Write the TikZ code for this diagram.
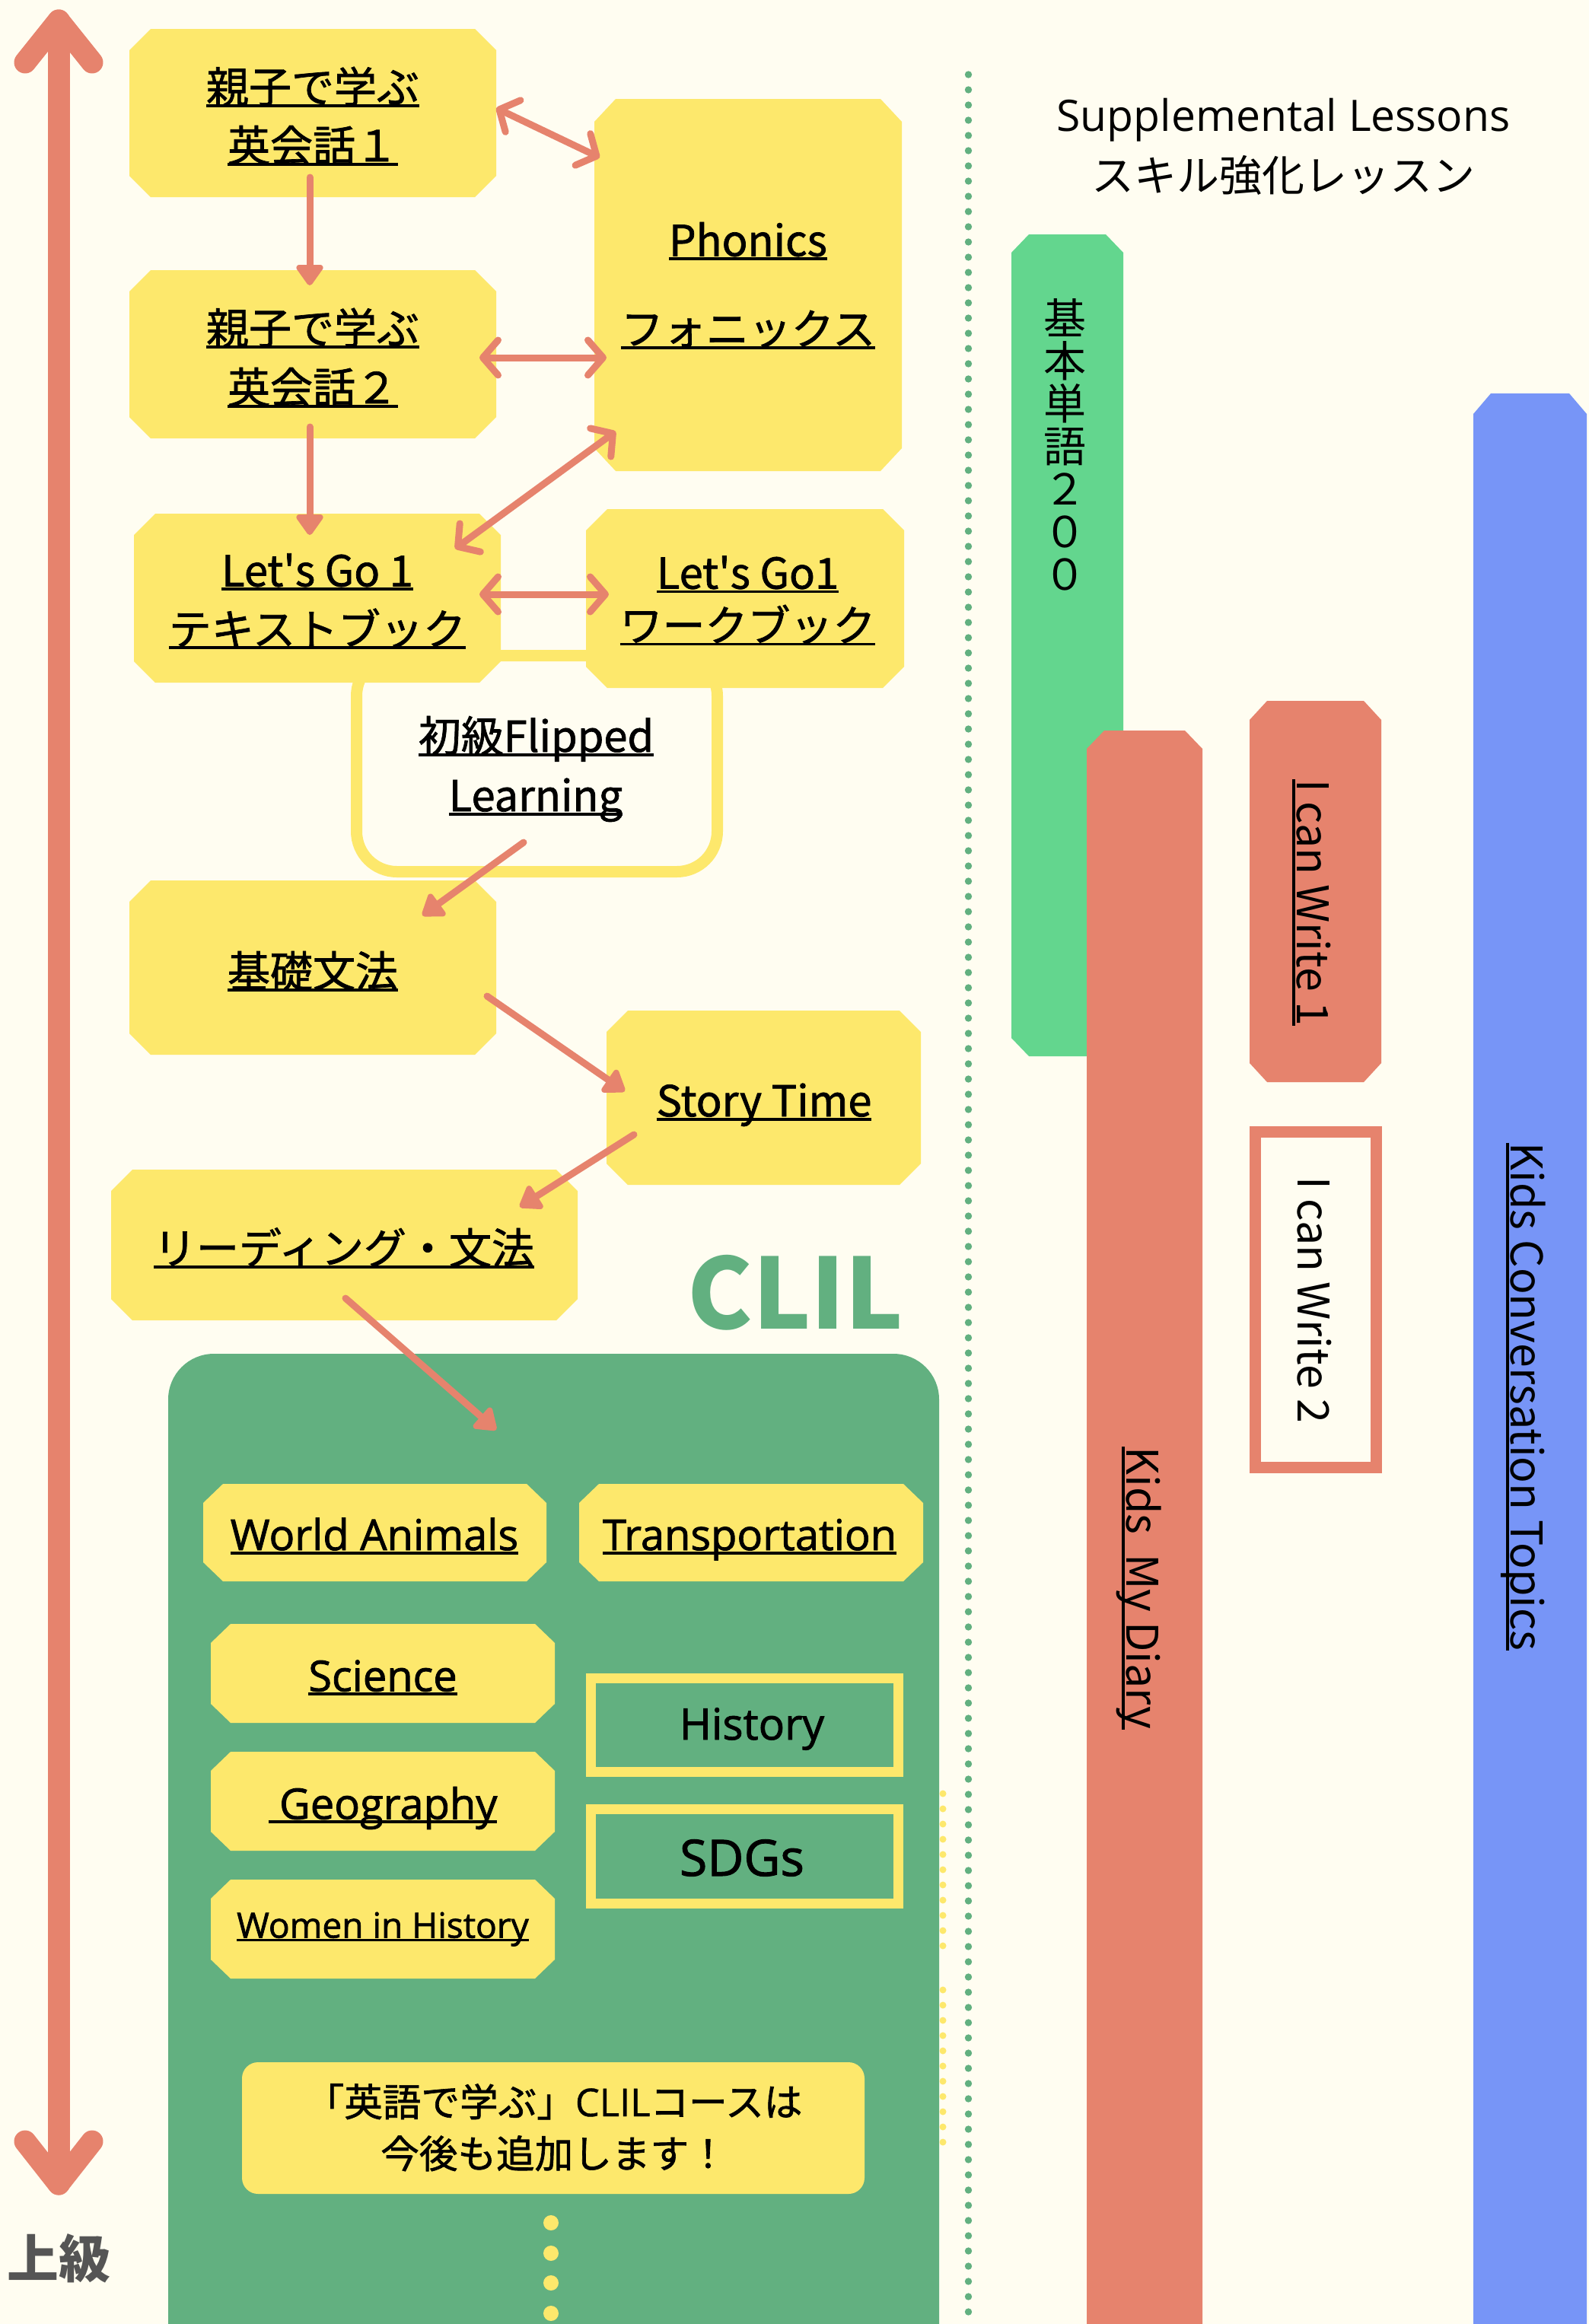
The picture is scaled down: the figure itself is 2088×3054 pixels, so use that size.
\documentclass[tikz,border=0pt]{standalone}
\usepackage{fontspec}
\setmainfont{Noto Sans CJK JP}
\newfontfamily\jpb{Noto Sans CJK JP}[FakeBold=1.3]
\newfontfamily\os{Open Sans}
\newfontfamily\osb{Open Sans}[FakeBold=1.5]
\newfontfamily\osm{Open Sans}[FakeBold=0.8]
\usetikzlibrary{arrows.meta}
\definecolor{bg}{HTML}{FFFDF1}
\definecolor{yel}{HTML}{FDE86C}
\definecolor{sal}{HTML}{E6836D}
\definecolor{clg}{HTML}{62B080}
\definecolor{bgr}{HTML}{63D68E}
\definecolor{blu}{HTML}{7795F7}
\definecolor{gry}{HTML}{555555}
\newsavebox\ulbox
\newcommand\ul[1]{\sbox\ulbox{#1}\rlap{\rule[-0.1em]{\wd\ulbox}{0.065em}}\usebox\ulbox}
\newcommand\octo[7]{\fill[#7] ({#1+#5},#2) -- ({#3-#5},#2) -- (#3,{#2+#6}) -- (#3,{#4-#6}) -- ({#3-#5},#4) -- ({#1+#5},#4) -- (#1,{#4-#6}) -- (#1,{#2+#6}) -- cycle;}
\tikzset{
  lbl/.style={anchor=base, inner sep=0pt, font=\fontsize{15.93}{18}\selectfont\jpb},
  rlbl/.style={anchor=base, inner sep=0pt, rotate=-90, font=\fontsize{16.3}{18}\selectfont},
  oslbl/.style={anchor=base, inner sep=0pt, font=\fontsize{15.93}{18}\selectfont\osb},
  sarrow/.style={draw=sal, line width=0.9mm, line cap=round, -{Triangle[length=3mm,width=4mm,round]}},
  darrow/.style={draw=sal, line width=0.9mm, line cap=round, {Straight Barb[length=2mm,width=4.6mm,round]}-{Straight Barb[length=2mm,width=4.6mm,round]}},
  bigax/.style={draw=sal, line width=2.9mm, line cap=round, line join=round},
}
\begin{document}
\begin{tikzpicture}[x=0.1mm, y=-0.1mm]
\useasboundingbox (0,0) rectangle (2088,3054);
\fill[bg] (0,0) rectangle (2088,3054);

% big level arrow
\coordinate (axtop) at (77,27);
\coordinate (axbot) at (77,2870);
\draw[bigax] (axtop) -- (axbot);
\draw[bigax] (33,82) -- (axtop) -- (121,82);
\draw[bigax] (33,2814) -- (axbot) -- (121,2814);
\node[anchor=base, inner sep=0pt, text=gry, font=\fontsize{19.3}{20}\selectfont\bfseries] (jokyu) at (77.5,2993) {上級};

% flipped learning box (behind)
\draw[yel, line width=1.5mm, fill=bg, rounded corners=5.3mm] (468.5,861.5) rectangle (942.5,1145.5);

% yellow boxes
\octo{170}{38}{652}{259}{28}{28}{yel}
\octo{170}{355}{652}{576}{28}{28}{yel}
\octo{781}{130}{1185}{619}{28}{30}{yel}
\octo{176}{675}{658}{897}{28}{28}{yel}
\octo{770}{669}{1188}{904}{28}{28}{yel}
\octo{170}{1157}{652}{1386}{28}{28}{yel}
\octo{797}{1328}{1210}{1557}{28}{28}{yel}
\octo{146}{1537}{759}{1735}{28}{28}{yel}

% CLIL panel
\fill[clg, rounded corners=6mm] (221,1779) rectangle (1234,3200);
\octo{267}{1950}{718}{2078}{26}{25}{yel}
\octo{761}{1950}{1213}{2078}{26}{25}{yel}
\octo{277}{2134}{729}{2264}{26}{25}{yel}
\octo{277}{2302}{729}{2432}{26}{25}{yel}
\octo{277}{2470}{729}{2600}{26}{25}{yel}
\draw[yel, line width=1.3mm] (776.5,2205.5) rectangle (1180.5,2328.5);
\draw[yel, line width=1.3mm] (776.5,2377.5) rectangle (1180.5,2501.5);
\fill[yel, rounded corners=2.1mm] (318,2710) rectangle (1136,2883);
\foreach \yy in {2921,2961,3000,3040} \fill[yel] (724,\yy) circle[radius=1mm];
\foreach \i in {0,...,10} {
  \fill[yel] (1239,{2357+20*\i}) circle[radius=0.45mm];
  \fill[yel] (1239,{2615+20*\i}) circle[radius=0.45mm];
}

% dotted separator
\foreach \i in {0,...,147} \fill[clg] (1272.5,{98+20*\i}) circle[radius=0.47mm];

% supplemental bars
\octo{1329}{308}{1476}{1388}{23}{24}{bgr}
\octo{1428}{960}{1580}{3300}{23}{24}{sal}
\octo{1642}{921}{1815}{1422}{23}{25}{sal}
\draw[sal, line width=1.5mm, fill=bg] (1649.5,1487.5) rectangle (1808,1928.5);
\octo{1936}{517}{2085}{3300}{23}{27}{blu}

% connectors
\coordinate (e1a) at (652,142); \coordinate (e1b) at (788,207);
\coordinate (e2a) at (407,233); \coordinate (e2b) at (407,375);
\coordinate (e3a) at (630,470); \coordinate (e3b) at (797,470);
\coordinate (e4a) at (407,561); \coordinate (e4b) at (407,703);
\coordinate (e5a) at (809,567); \coordinate (e5b) at (598,721);
\coordinate (e6a) at (630,781); \coordinate (e6b) at (800,781);
\coordinate (e7a) at (688,1107); \coordinate (e7b) at (555,1203);
\coordinate (e8a) at (640,1309); \coordinate (e8b) at (821,1434);
\coordinate (e9a) at (833,1491); \coordinate (e9b) at (683,1586);
\coordinate (e10a) at (454,1706); \coordinate (e10b) at (652,1879);
\draw[darrow] (e1a) -- (e1b);
\draw[sarrow] (e2a) -- (e2b);
\draw[darrow] (e3a) -- (e3b);
\draw[sarrow] (e4a) -- (e4b);
\draw[darrow] (e5a) -- (e5b);
\draw[darrow] (e6a) -- (e6b);
\draw[sarrow] (e7a) -- (e7b);
\draw[sarrow] (e8a) -- (e8b);
\draw[sarrow] (e9a) -- (e9b);
\draw[sarrow] (e10a) -- (e10b);

% left column texts
\node[lbl] (b1a) at (411,135) {\ul{親子で学ぶ}};
\node[lbl] (b1b) at (411,212) {\ul{英会話１}};
\node[lbl] (b2a) at (411,452) {\ul{親子で学ぶ}};
\node[lbl] (b2b) at (411,530) {\ul{英会話２}};
\node[lbl] (ph1) at (983,336.5) {\ul{Phonics}};
\node[lbl] (ph2) at (983,453) {\ul{フォニックス}};
\node[lbl] (lg1) at (417,770.5) {\ul{Let\textquotesingle s Go 1}};
\node[lbl] (lg2) at (417,847.5) {\ul{テキストブック}};
\node[lbl] (wb1) at (982.5,773.6) {\ul{Let\textquotesingle s Go1}};
\node[lbl] (wb2) at (982.5,842.7) {\ul{ワークブック}};
\node[lbl] (fl1) at (704.5,988) {\ul{初級Flipped}};
\node[lbl] (fl2) at (704,1066) {\ul{Learning}};
\node[lbl] (kiso) at (411,1297) {\ul{基礎文法}};
\node[lbl] (story) at (1004,1467) {\ul{Story Time}};
\node[lbl] (read) at (452,1661) {\ul{リーディング・文法}};
\node[anchor=base, inner sep=0pt, text=clg, font=\fontsize{36.5}{40}\selectfont\bfseries] (clil) at (1045.5,1746) {CLIL};

% CLIL texts
\node[oslbl] (wa) at (492,2037) {\ul{World Animals}};
\node[oslbl] (tr) at (985,2037) {\ul{Transportation}};
\node[oslbl] (sci) at (503,2222.5) {\ul{Science}};
\node[oslbl] (geo) at (503,2390.5) {\ul{\ Geography}};
\node[oslbl, font=\fontsize{13.09}{15}\selectfont\osb] (wih) at (503,2546.5) {\ul{Women in History}};
\node[oslbl, font=\fontsize{16.22}{18}\selectfont\osb] (hist) at (988,2286) {History};
\node[oslbl, font=\fontsize{18.78}{20}\selectfont\osb] (sdgs) at (975,2465) {SDGs};
\node[anchor=base, inner sep=0pt, font=\fontsize{14.4}{16}\selectfont\jpb] (n1) at (728,2781) {「英語で学ぶ」{\osm CLIL}コースは};
\node[anchor=base, inner sep=0pt, font=\fontsize{14.4}{16}\selectfont\jpb] (n2) at (728,2849) {今後も追加します！};

% supplemental texts
\node[anchor=base, inner sep=0pt, font=\fontsize{16.22}{18}\selectfont\os] (sup1) at (1686.5,172) {Supplemental Lessons};
\node[anchor=base, inner sep=0pt, font=\fontsize{15.93}{18}\selectfont] (sup2) at (1686.5,251) {スキル強化レッスン};
\node[anchor=north, inner sep=0pt, align=center, font=\fontsize{15.93}{15.93}\selectfont] (kt) at (1399,392) {基\\本\\単\\語\\２\\０\\０};
\node[rlbl] (kmd) at (1480,2087) {\ul{Kids\ \ My Diary}};
\node[rlbl] (icw1) at (1704,1186) {\ul{I can Write 1}};
\node[rlbl] (icw2) at (1705,1708) {I can Write 2};
\node[rlbl] (kct) at (1985,1835.5) {\ul{Kids Conversation Topics}};
\end{tikzpicture}
\end{document}
